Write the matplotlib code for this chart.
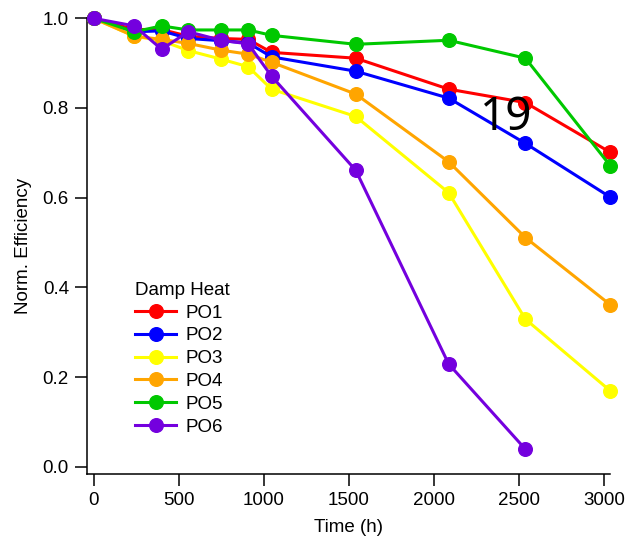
import matplotlib
matplotlib.use("Agg")
import matplotlib.pyplot as plt
from matplotlib.ticker import FormatStrFormatter

# Damp-heat ageing: normalised efficiency vs. exposure time
time_h = [0, 240, 400, 557, 749, 909, 1046, 1541, 2087, 2538, 3037]

po1 = [1.00, 0.975, 0.975, 0.96, 0.955, 0.953, 0.924, 0.911, 0.842, 0.812, 0.701]
po2 = [1.00, 0.970, 0.972, 0.955, 0.950, 0.945, 0.914, 0.882, 0.822, 0.721, 0.601]
po3 = [1.00, 0.960, 0.950, 0.928, 0.909, 0.892, 0.842, 0.781, 0.611, 0.329, 0.169]
po4 = [1.00, 0.960, 0.953, 0.944, 0.929, 0.920, 0.902, 0.831, 0.680, 0.511, 0.361]
po5 = [1.00, 0.970, 0.983, 0.974, 0.974, 0.974, 0.962, 0.942, 0.951, 0.911, 0.671]
po6 = [1.00, 0.983, 0.931, 0.970, 0.951, 0.943, 0.871, 0.661, 0.229, 0.039]

series_names = ["PO1", "PO2", "PO3", "PO4", "PO5", "PO6"]
series_values = [po1, po2, po3, po4, po5, po6]
series_colors = ["#FF0000", "#0000FF", "#FFFF00", "#FFA500", "#00C800", "#7400DE"]

x_ticks = [0, 500, 1000, 1500, 2000, 2500, 3000]
y_ticks = [0.0, 0.2, 0.4, 0.6, 0.8, 1.0]

plt.rcParams["font.family"] = ["Liberation Sans", "DejaVu Sans"]
FS = 13.5
plt.rcParams["font.size"] = FS

W, H = 626, 539
fig = plt.figure(figsize=(W / 100, H / 100), dpi=100)
ax = fig.add_axes([86.7 / W, (H - 474) / H, (610 - 86.7) / W, (474 - 18.3) / H])

for name, vals, col in zip(series_names, series_values, series_colors):
    ax.plot(time_h[:len(vals)], vals, color=col, lw=2.2, marker="o",
            markersize=9.8, label=name, clip_on=False, zorder=3)

ax.set_xlim(-40, 3035)
ax.set_ylim(-0.0163, 1.0)
ax.set_xticks(x_ticks)
ax.set_yticks(y_ticks)
ax.yaxis.set_major_formatter(FormatStrFormatter("%.1f"))

for side in ("top", "right"):
    ax.spines[side].set_visible(False)
for side in ("left", "bottom"):
    ax.spines[side].set_linewidth(1.1)
ax.tick_params(direction="out", length=8.3, width=1.1, pad=4.5, labelsize=FS)

ax.set_xlabel("Time (h)", fontsize=FS, labelpad=7)
ax.set_ylabel("Norm. Efficiency", fontsize=FS, labelpad=8)

leg = ax.legend(title="Damp Heat", loc="upper left",
                bbox_to_anchor=(135 / W, (H - 282) / H),
                bbox_transform=fig.transFigure, frameon=False,
                fontsize=FS, title_fontsize=FS, handlelength=2.2,
                handletextpad=0.5, labelspacing=0.3, borderpad=0,
                borderaxespad=0, alignment="left")

ax.text(506, H - 118, "19", transform=None, fontsize=33,
        family=["Noto Sans", "DejaVu Sans"], color="black",
        ha="center", va="center", zorder=5)

fig.savefig("out.png", dpi=100)
